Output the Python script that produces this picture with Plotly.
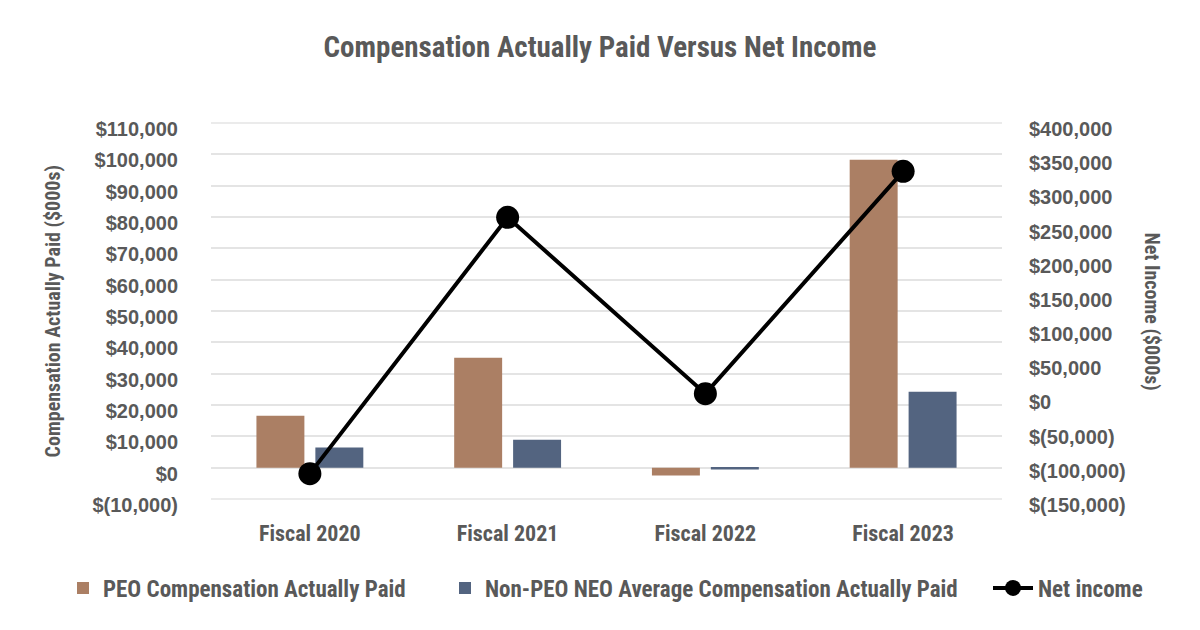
import plotly.graph_objects as go

categories = ["Fiscal 2020", "Fiscal 2021", "Fiscal 2022", "Fiscal 2023"]
peo_cap = [16560, 35080, -2490, 98280]
non_peo_cap = [6450, 8900, -570, 24230]
net_income = [-112900, 262000, 4100, 329300]

left_tickvals = [-10000, 0, 10000, 20000, 30000, 40000, 50000, 60000, 70000, 80000, 90000, 100000, 110000]
left_ticktext = ["$(10,000)", "$0", "$10,000", "$20,000", "$30,000", "$40,000", "$50,000",
                 "$60,000", "$70,000", "$80,000", "$90,000", "$100,000", "$110,000"]
right_tickvals = [-150000, -100000, -50000, 0, 50000, 100000, 150000, 200000, 250000, 300000, 350000, 400000]
right_ticktext = ["$(150,000)", "$(100,000)", "$(50,000)", "$0", "$50,000", "$100,000", "$150,000",
                  "$200,000", "$250,000", "$300,000", "$350,000", "$400,000"]

COND = "'Roboto Condensed', 'DejaVu Sans Condensed', 'Liberation Sans Narrow', 'Arial Narrow', sans-serif"
TICKF = "'Liberation Sans', Arial, sans-serif"
GREY = "#595959"
GRID = "#E4E4E4"

fig = go.Figure()
fig.add_trace(go.Bar(x=categories, y=peo_cap, name="PEO Compensation Actually Paid",
                     marker=dict(color="#AB7F64", line=dict(width=0)), yaxis="y", legend="legend"))
fig.add_trace(go.Bar(x=categories, y=non_peo_cap, name="Non-PEO NEO Average Compensation Actually Paid",
                     marker=dict(color="#536480", line=dict(width=0)), yaxis="y", legend="legend2"))
fig.add_trace(go.Scatter(x=categories, y=net_income, name="Net income", yaxis="y2",
                         mode="lines+markers", line=dict(color="black", width=4),
                         marker=dict(color="black", size=23), legend="legend3"))

LEG_Y = 1 - 588 / 630
leg_font = dict(family=COND, size=23, color=GREY, weight="bold")


def leg(xpx, width=30):
    return dict(orientation="h", xref="container", x=xpx / 1200, xanchor="left",
                yref="container", y=LEG_Y, yanchor="middle", font=leg_font,
                itemwidth=width, bgcolor="rgba(0,0,0,0)")


l_lo, l_hi = min(left_tickvals), max(left_tickvals)
r_lo, r_hi = min(right_tickvals), max(right_tickvals)

# plotly drops grid lines that sit on the plot edges; draw those two as unclipped shapes
edge_grid = [dict(type="line", xref="paper", x0=0, x1=1, yref="paper",
                  y0=(v - l_lo) / (l_hi - l_lo), y1=(v - l_lo) / (l_hi - l_lo),
                  line=dict(color=GRID, width=1.5), layer="below")
             for v in (l_lo, l_hi)]

fig.update_layout(
    width=1200, height=630,
    paper_bgcolor="white", plot_bgcolor="white",
    margin=dict(l=211, r=198, t=123, b=131, autoexpand=False),
    barmode="group", bargap=0.404, bargroupgap=0.186,
    title=dict(text="Compensation Actually Paid Versus Net Income",
               x=0.5, xanchor="center", y=1 - 47 / 630, yanchor="middle",
               font=dict(family=COND, size=29, color=GREY, weight="bold")),
    xaxis=dict(showgrid=False, zeroline=False, showline=False, ticks="",
               tickfont=dict(family=COND, size=22, color=GREY, weight="bold"),
               ticklabelstandoff=19),
    yaxis=dict(range=[l_lo, l_hi], tickvals=left_tickvals, ticktext=left_ticktext,
               showgrid=True, gridcolor=GRID, gridwidth=1.5, zeroline=False,
               showline=False, ticks="", ticklabelstandoff=32, ticklabelshift=6,
               tickfont=dict(family=TICKF, size=20, color=GREY, weight="bold")),
    yaxis2=dict(range=[r_lo, r_hi], tickvals=right_tickvals, ticktext=right_ticktext,
                overlaying="y", side="right", showgrid=False, zeroline=False,
                showline=False, ticks="", ticklabelstandoff=26, ticklabelshift=6,
                tickfont=dict(family=TICKF, size=20, color=GREY, weight="bold")),
    legend=leg(63),
    legend2=leg(445),
    legend3=leg(988, 40),
    showlegend=True,
    shapes=edge_grid,
    annotations=[
        dict(text="Compensation Actually Paid ($000s)", xref="paper", yref="paper",
             x=-0.1992, y=0.5, xanchor="center", yanchor="middle", textangle=-90,
             showarrow=False, font=dict(family=COND, size=20, color=GREY, weight="bold")),
        dict(text="Net Income ($000s)", xref="paper", yref="paper",
             x=1.1891, y=0.5, xanchor="center", yanchor="middle", textangle=90,
             showarrow=False, font=dict(family=COND, size=20, color=GREY, weight="bold")),
    ],
)

fig.write_html("out.html", config={"displayModeBar": False},
               post_script="document.body.style.margin='0';")
